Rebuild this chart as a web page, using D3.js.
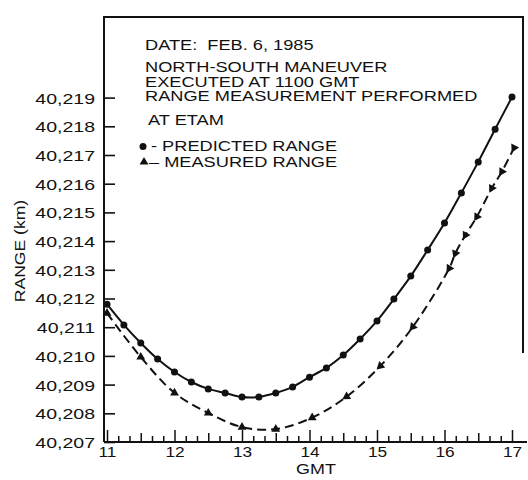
<!DOCTYPE html>
<html>
<head>
<meta charset="utf-8">
<script src="https://cdn.jsdelivr.net/npm/d3@7"></script>
<style>
  html, body { margin: 0; padding: 0; background: #ffffff; }
  svg { display: block; }
  text { font-family: "Liberation Sans", Arial, Helvetica, sans-serif; fill: #111; }
</style>
</head>
<body>
<script>
// ---------------- data ----------------
const predHours = [11, 11.25, 11.5, 11.75, 12, 12.25, 12.5, 12.75, 13, 13.25, 13.5, 13.75,
                   14, 14.25, 14.5, 14.75, 15, 15.25, 15.5, 15.75, 16, 16.25, 16.5, 16.75, 17];
const predRange = [40211.80, 40211.08, 40210.45, 40209.89, 40209.44, 40209.09, 40208.85, 40208.71,
                   40208.57, 40208.57, 40208.71, 40208.92, 40209.26, 40209.58, 40210.03, 40210.59,
                   40211.22, 40211.98, 40212.78, 40213.69, 40214.63, 40215.68, 40216.76, 40217.90, 40219.02];

const measHours = [11, 11.5, 12, 12.5, 13, 13.5, 14.04, 14.55, 15.05, 15.53,
                   16.07, 16.16, 16.31, 16.48, 16.70, 16.85, 17.03];
const measRange = [40211.49, 40209.96, 40208.71, 40208.01, 40207.52, 40207.45, 40207.85, 40208.58,
                   40209.65, 40211.01, 40213.05, 40213.57, 40214.21, 40214.85, 40215.84, 40216.42, 40217.25];

const yTickValues = [40207, 40208, 40209, 40210, 40211, 40212, 40213, 40214, 40215, 40216, 40217, 40218, 40219];
const xTickValues = [11, 12, 13, 14, 15, 16, 17];
const xTickLabels = ["11", "12", "13", "14", "15", "16", "17"];

const notes = ["DATE:\u00A0 FEB. 6, 1985", "NORTH-SOUTH MANEUVER", "EXECUTED AT 1100 GMT",
               "RANGE MEASUREMENT PERFORMED", "AT ETAM"];
const legendLabels = ["- PREDICTED RANGE", "\u2013 MEASURED RANGE"];
const yAxisTitle = "RANGE (km)";
const xAxisTitle = "GMT";

// ---------------- layout ----------------
const W = 528, H = 480;
const axisX = 104, axisY = 442, boxTop = 17, boxRight = 523;
const x = d3.scaleLinear().domain([11, 17]).range([107, 512]);
const y = d3.scaleLinear().domain([40207, 40219]).range([442, 97.6]);

const svg = d3.select("body").append("svg").attr("width", W).attr("height", H);

function stretch(sel, f) {
  sel.each(function () {
    const w = this.getComputedTextLength();
    d3.select(this).attr("textLength", w * f).attr("lengthAdjust", "spacingAndGlyphs");
  });
}

// ---------------- frame ----------------
svg.append("path")
  .attr("d", `M${axisX},${axisY} L${axisX},${boxTop} L${boxRight},${boxTop} L${boxRight},353`)
  .attr("fill", "none").attr("stroke", "#111").attr("stroke-width", 2);
svg.append("line")
  .attr("x1", axisX).attr("x2", 527).attr("y1", axisY).attr("y2", axisY)
  .attr("stroke", "#111").attr("stroke-width", 2);

// ---------------- y axis ----------------
const yAxisG = svg.append("g").attr("transform", `translate(${axisX},0)`)
  .call(d3.axisLeft(y).tickValues(yTickValues).tickSize(-11).tickPadding(9)
    .tickFormat(d3.format(",")));
yAxisG.select(".domain").remove();
yAxisG.selectAll(".tick line").attr("stroke", "#111").attr("stroke-width", 1.6);
yAxisG.selectAll(".tick text").attr("font-size", 15).attr("font-family", null).attr("fill", "#111")
  .attr("dy", "0.36em");
stretch(yAxisG.selectAll(".tick text"), 1.3);

// ---------------- x axis ----------------
const minorTicks = d3.range(11 * 6, 17 * 6 + 1).map(v => v / 6).filter(v => Math.abs(v * 2 - Math.round(v * 2)) > 1e-6);
const halfTicks = d3.range(11.5, 17, 1);
const xMinor = svg.append("g").attr("transform", `translate(0,${axisY})`)
  .call(d3.axisBottom(x).tickValues(minorTicks).tickSize(-6).tickFormat(""));
const xHalf = svg.append("g").attr("transform", `translate(0,${axisY})`)
  .call(d3.axisBottom(x).tickValues(halfTicks).tickSize(-9).tickFormat(""));
const xAxisG = svg.append("g").attr("transform", `translate(0,${axisY})`)
  .call(d3.axisBottom(x).tickValues(xTickValues).tickSize(-12).tickPadding(4)
    .tickFormat((d, i) => xTickLabels[i]));
[xMinor, xHalf, xAxisG].forEach(g => {
  g.select(".domain").remove();
  g.selectAll(".tick line").attr("stroke", "#111").attr("stroke-width", 1.5);
});
xAxisG.selectAll(".tick text").attr("font-size", 15).attr("font-family", null).attr("fill", "#111");
stretch(xAxisG.selectAll(".tick text"), 1.15);

// axis titles
const yt = svg.append("text").attr("transform", "translate(24.5,251) rotate(-90)")
  .attr("text-anchor", "middle").attr("font-size", 15).text(yAxisTitle);
stretch(yt, 1.17);
const xt = svg.append("text").attr("x", 316).attr("y", 474)
  .attr("text-anchor", "middle").attr("font-size", 14).text(xAxisTitle);
stretch(xt, 1.28);

// ---------------- lines ----------------
const pred = predHours.map((h, i) => ({ h, v: predRange[i] }));
const meas = measHours.map((h, i) => ({ h, v: measRange[i] }));
const line = d3.line().x(d => x(d.h)).y(d => y(d.v)).curve(d3.curveCatmullRom.alpha(0.5));

svg.append("path").datum(pred).attr("d", line)
  .attr("fill", "none").attr("stroke", "#111").attr("stroke-width", 2);
svg.append("path").datum(meas).attr("d", line)
  .attr("fill", "none").attr("stroke", "#111").attr("stroke-width", 2)
  .attr("stroke-dasharray", "9,5");

// predicted markers
svg.append("g").selectAll("circle").data(pred).join("circle")
  .attr("cx", d => x(d.h)).attr("cy", d => y(d.v)).attr("r", 3.5).attr("fill", "#111");

// measured markers (arrow-head triangles)
const tri = d3.symbol().type(d3.symbolTriangle).size(34);
svg.append("g").selectAll("path").data(meas).join("path")
  .attr("d", tri)
  .attr("fill", "#111")
  .attr("transform", (d, i) => {
    const px = x(d.h), py = y(d.v);
    let rot = 0;
    if (i > 0 && d.h >= 14.5) {
      const p = meas[i - 1];
      const ang = Math.atan2(y(p.v) - py, x(p.h) - px) * 180 / Math.PI;
      rot = ang + 90;
    }
    return `translate(${px},${py}) rotate(${rot})`;
  });

// ---------------- annotation ----------------
const noteX = [145, 145, 145, 145, 148];
const noteY = [50, 72, 86.5, 101, 125];
const nt = svg.append("g").selectAll("text").data(notes).join("text")
  .attr("x", (d, i) => noteX[i]).attr("y", (d, i) => noteY[i])
  .attr("font-size", 14).text(d => d);
stretch(nt, 1.3);

// legend
svg.append("circle").attr("cx", 143).attr("cy", 146.5).attr("r", 3.5).attr("fill", "#111");
svg.append("path").attr("d", tri).attr("fill", "#111").attr("transform", "translate(144,162)");
const lt = svg.append("g").selectAll("text").data(legendLabels).join("text")
  .attr("x", (d, i) => [151, 149][i]).attr("y", (d, i) => [151, 167][i])
  .attr("font-size", 14).text(d => d);
stretch(lt, 1.3);
</script>
</body>
</html>
